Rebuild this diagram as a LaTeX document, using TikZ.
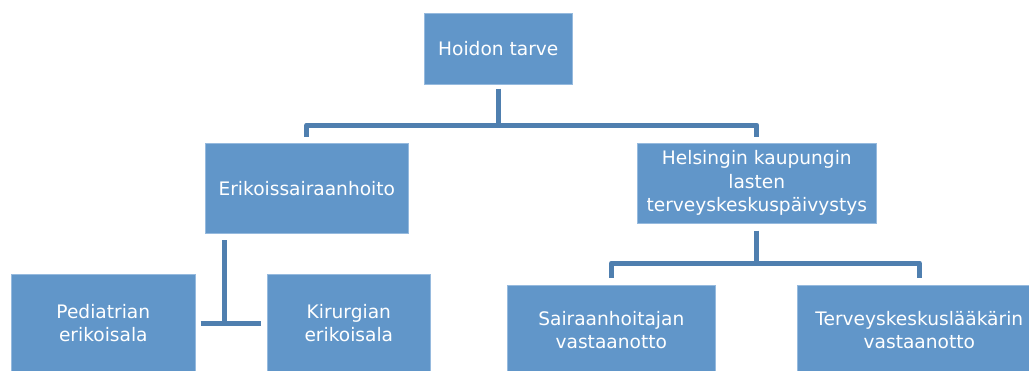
\documentclass[tikz,border=0pt]{standalone}
\usepackage{fontspec}
\setmainfont{DejaVu Sans}
\definecolor{boxc}{RGB}{97,150,201}
\definecolor{linec}{RGB}{79,127,175}
\definecolor{edgec}{RGB}{150,186,222}
\begin{document}
\begin{tikzpicture}[x=1pt,y=-1pt,
  box/.style={draw=edgec,line width=0.6pt,fill=boxc,text=white,anchor=north west,inner sep=0pt,align=center,font=\fontsize{18.6}{23.5}\selectfont},
  conn/.style={draw=linec,line width=5pt,line join=round}]
\useasboundingbox (0,0) rectangle (1029,370);
\clip (0,0) rectangle (1029,370);
\node[box,minimum width=148pt,minimum height=71pt] (hoidon) at (424,13) {Hoidon tarve};
\node[box,minimum width=203pt,minimum height=90pt] (eri) at (205,143) {Erikoissairaanhoito};
\node[box,minimum width=239pt,minimum height=80pt] (hel) at (637,143) {Helsingin kaupungin\\lasten\\terveyskeskuspäivystys};
\node[box,minimum width=184pt,minimum height=98pt] (ped) at (11,274) {Pediatrian\\erikoisala};
\node[box,minimum width=163pt,minimum height=98pt] (kir) at (267,274) {Kirurgian\\erikoisala};
\node[box,minimum width=208pt,minimum height=90pt] (sai) at (507,285) {Sairaanhoitajan\\vastaanotto};
\node[box,minimum width=244pt,minimum height=90pt] (ter) at (797,285) {Terveyskeskuslääkärin\\vastaanotto};
\coordinate (bar1) at (0,125);
\coordinate (bar2) at (0,263);
\coordinate (k1) at (224,240);
\coordinate (k2) at (224,325);
\draw[conn] ([yshift=-4pt]hoidon.south) -- (hoidon.south |- bar1) -| ([yshift=6pt]eri.north);
\draw[conn] (hoidon.south |- bar1) -| ([yshift=6pt]hel.north);
\draw[conn] ([yshift=-7pt]hel.south) -- (hel.south |- bar2) -| ([yshift=7pt]sai.north);
\draw[conn] (hel.south |- bar2) -| ([yshift=7pt]ter.north);
\draw[conn] (k1) -- (k2);
\draw[conn] ([xshift=5pt]ped.east) -- ([xshift=-6pt]kir.west);
\end{tikzpicture}
\end{document}
